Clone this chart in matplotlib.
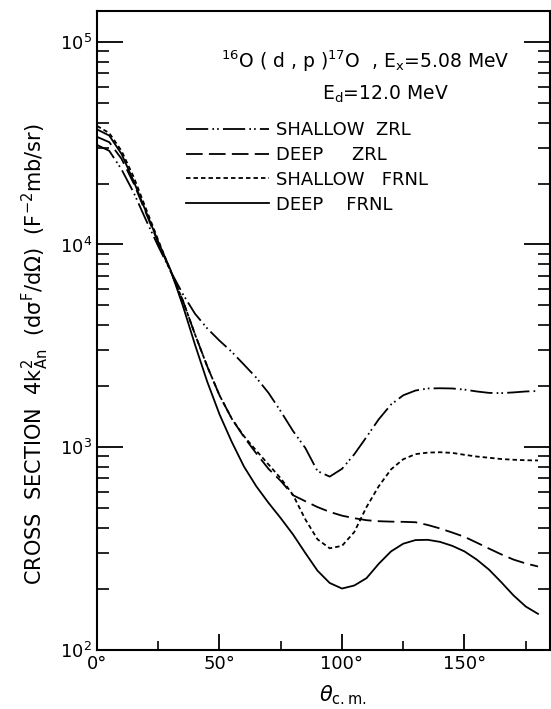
import matplotlib
matplotlib.use("Agg")
import matplotlib.pyplot as plt
from matplotlib.ticker import FixedLocator, LogLocator, NullFormatter

plt.rcParams['font.family'] = ['DejaVu Sans']
plt.rcParams['mathtext.default'] = 'regular'
plt.rcParams['lines.scale_dashes'] = False

# ---------------- data ----------------
theta = [0, 5, 10, 15, 20, 25, 30, 35, 40, 45, 50, 55, 60, 65, 70, 75, 80, 85, 90,
         95, 100, 105, 110, 115, 120, 125, 130, 135, 140, 145, 150, 155, 160, 165,
         170, 175, 180]

shallow_zrl = [31000, 29000, 23500, 18000, 13200, 9800, 7400, 5700, 4550, 3850, 3350,
               2950, 2550, 2200, 1850, 1500, 1200, 990, 760, 714, 780, 920, 1120, 1370,
               1620, 1800, 1900, 1945, 1950, 1945, 1920, 1880, 1850, 1845, 1860, 1880, 1890]

deep_zrl = [34000, 32000, 26500, 20000, 14300, 10200, 7400, 5300, 3600, 2500, 1800,
            1380, 1120, 930, 780, 680, 578, 540, 505, 478, 458, 445, 435, 430,
            428, 427, 425, 412, 396, 378, 360, 337, 315, 295, 278, 266, 257]

shallow_frnl = [38500, 35500, 29000, 21500, 15000, 10500, 7400, 5300, 3600, 2500, 1800,
                1380, 1130, 960, 820, 700, 580, 440, 350, 316, 325, 380, 505, 640,
                775, 870, 922, 938, 942, 935, 915, 897, 885, 872, 865, 860, 858]

deep_frnl = [37000, 34500, 28000, 20500, 14500, 10300, 7500, 5000, 3200, 2100, 1450,
             1060, 800, 640, 530, 445, 370, 300, 245, 213, 200, 207, 225, 265,
             305, 333, 347, 348, 340, 325, 305, 278, 248, 215, 185, 163, 150]

labels = ['SHALLOW  ZRL', 'DEEP     ZRL', 'SHALLOW   FRNL', 'DEEP    FRNL']

xticks = [0, 50, 100, 150]
xticklabels = ['0°', '50°', '100°', '150°']
xminor = [25, 75, 125, 175]
yticks = [1e2, 1e3, 1e4, 1e5]
yticklabels = ['$10^{2}$', '$10^{3}$', '$10^{4}$', '$10^{5}$']

# ---------------- figure ----------------
W, H = 551, 709
fig = plt.figure(figsize=(W / 100, H / 100), dpi=100)
L, R, T, B = 97, 550, 10.5, 649.5
ax = fig.add_axes([L / W, 1 - B / H, (R - L) / W, (B - T) / H])

lw = 1.3
styles = [(0, (16, 3, 1.2, 2.2, 1.2, 3)), (0, (12, 4.5)), (0, (3.2, 2.2)), '-']
series = [shallow_zrl, deep_zrl, shallow_frnl, deep_frnl]
for ys, ls, lab in zip(series, styles, labels):
    ax.plot(theta, ys, color='black', lw=lw, linestyle=ls, label=lab)

ax.set_yscale('log')
ax.set_xlim(0, 184.9)
ax.set_ylim(100, 1.43e5)

ax.yaxis.set_major_locator(FixedLocator(yticks))
ax.set_yticklabels(yticklabels)
ax.yaxis.set_minor_locator(LogLocator(base=10, subs=range(2, 10)))
ax.yaxis.set_minor_formatter(NullFormatter())
ax.set_xticks(xticks)
ax.set_xticklabels(xticklabels)
ax.set_xticks(xminor, minor=True)

ax.tick_params(axis='y', which='major', direction='in', length=18.5, width=1.3,
               left=True, right=True, labelsize=13, pad=3.5)
ax.tick_params(axis='y', which='minor', direction='in', length=8.5, width=1.2,
               left=True, right=True)
ax.tick_params(axis='x', which='major', direction='in', length=11.5, width=1.3,
               top=False, labelsize=13, pad=4)
ax.tick_params(axis='x', which='minor', direction='in', length=6.5, width=1.2, top=False)
for s in ax.spines.values():
    s.set_linewidth(1.5)

leg = ax.legend(loc='upper left', bbox_to_anchor=(186 / W, 1 - 121 / H),
                bbox_transform=fig.transFigure, frameon=False, fontsize=13,
                handlelength=4.6, handletextpad=0.4, labelspacing=0.38,
                borderpad=0, borderaxespad=0)

fig.text(365 / W, 1 - 68 / H,
         '$^{16}$O ( d , p )$^{17}$O  , E$_{x}$=5.08 MeV',
         ha='center', va='baseline', fontsize=13.5)
fig.text(385 / W, 1 - 100 / H, 'E$_{d}$=12.0 MeV',
         ha='center', va='baseline', fontsize=13.5)

fig.text(35 / W, 1 - 354 / H,
         'CROSS  SECTION  4k$_{An}^{2}$  (d$\\sigma^{F}$/d$\\Omega$)  (F$^{-2}$mb/sr)',
         rotation=90, ha='center', va='center', fontsize=15)
fig.text(343 / W, 1 - 695 / H, '$\\mathit{\\theta}_{c.m.}$',
         ha='center', va='center', fontsize=15)

fig.savefig('out.png', dpi=100, facecolor='white')
